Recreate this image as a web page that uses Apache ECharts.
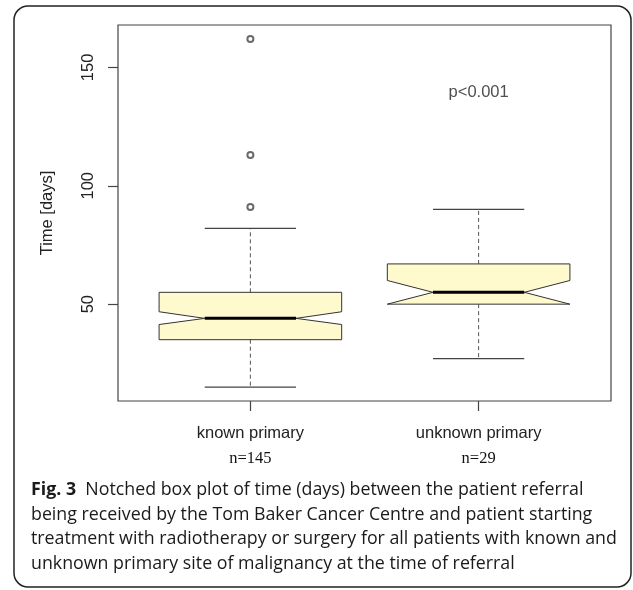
<!DOCTYPE html>
<html><head><meta charset="utf-8">
<script src="https://cdn.jsdelivr.net/npm/echarts@6/dist/echarts.min.js"></script>
<style>html,body{margin:0;padding:0;background:#fff}#c{width:633px;height:590px}</style>
</head><body><div id="c"></div>
<script>
const categories = ['known primary', 'unknown primary'];
const sampleSizes = [145, 29];
const lowerWhisker = [15, 27];
const lowerQuartile = [35, 50];
const notchLow = [41.4, 50];
const medianValue = [44, 55];
const notchHigh = [46.8, 60];
const upperQuartile = [55, 67];
const upperWhisker = [82, 90];
const outlierValues = [[162, 113, 91], []];
const yTicks = [50, 100, 150];
const pValueText = 'p<0.001';
const pValuePos = [2, 139.4];
const captionLines = [
  'Notched box plot of time (days) between the patient referral',
  'being received by the Tom Baker Cancer Centre and patient starting',
  'treatment with radiotherapy or surgery for all patients with known and',
  'unknown primary site of malignancy at the time of referral'
];

const boxData = categories.map((c, i) => [i + 1, lowerWhisker[i], lowerQuartile[i], notchLow[i], medianValue[i], notchHigh[i], upperQuartile[i], upperWhisker[i]]);
const outlierData = [];
outlierValues.forEach((arr, i) => arr.forEach(v => outlierData.push([i + 1, v])));

function renderBox(params, api) {
  const x = api.value(0);
  const lw = api.value(1), q1 = api.value(2), nl = api.value(3), md = api.value(4), nh = api.value(5), q3 = api.value(6), uw = api.value(7);
  const hw = api.size([0.4, 0])[0];
  const y = v => api.coord([x, v])[1];
  const cx = api.coord([x, md])[0];
  const pts = [[cx - hw, y(q1)], [cx - hw, y(nl)], [cx - hw / 2, y(md)], [cx - hw, y(nh)], [cx - hw, y(q3)],
    [cx + hw, y(q3)], [cx + hw, y(nh)], [cx + hw / 2, y(md)], [cx + hw, y(nl)], [cx + hw, y(q1)]];
  const dash = { stroke: '#555', lineWidth: 1, lineDash: [4, 3] };
  const solid = { stroke: '#444', lineWidth: 1.2 };
  return {
    type: 'group',
    children: [
      { type: 'line', shape: { x1: cx, y1: y(q3), x2: cx, y2: y(uw) }, style: dash },
      { type: 'line', shape: { x1: cx, y1: y(q1), x2: cx, y2: y(lw) }, style: dash },
      { type: 'line', shape: { x1: cx - hw / 2, y1: y(uw), x2: cx + hw / 2, y2: y(uw) }, style: solid },
      { type: 'line', shape: { x1: cx - hw / 2, y1: y(lw), x2: cx + hw / 2, y2: y(lw) }, style: solid },
      { type: 'polygon', shape: { points: pts }, style: { fill: '#FFF9CE', stroke: '#333', lineWidth: 1 } },
      { type: 'line', shape: { x1: cx - hw / 2, y1: y(md), x2: cx + hw / 2, y2: y(md) }, style: { stroke: '#000', lineWidth: 3 } }
    ]
  };
}

const chart = echarts.init(document.getElementById('c'));
chart.setOption({
  backgroundColor: '#fff',
  animation: false,
  title: {
    left: 26, top: 473,
    text: '{b|Fig. 3}  ' + captionLines.join('\n'),
    textStyle: {
      fontFamily: 'Open Sans', fontSize: 17.8, fontWeight: 'normal', color: '#1a1a1a', lineHeight: 24.5,
      rich: { b: { fontFamily: 'Open Sans', fontSize: 17.8, fontWeight: 'bold', color: '#1a1a1a', lineHeight: 24.5 } }
    }
  },
  graphic: [{
    type: 'rect', shape: { x: 14, y: 6, width: 617, height: 581, r: 14 },
    style: { fill: 'none', stroke: '#222', lineWidth: 1.5 }, silent: true
  }],
  grid: { left: 118, right: 22, top: 25, bottom: 189, show: true, borderColor: '#444', borderWidth: 1.2, backgroundColor: 'transparent' },
  xAxis: {
    type: 'value', min: 0.42, max: 2.58,
    axisLine: { show: false }, splitLine: { show: false },
    axisTick: { show: true, customValues: [1, 2], length: 10, lineStyle: { color: '#444', width: 1.2 } },
    axisLabel: {
      customValues: [1, 2], margin: 22,
      formatter: v => '{a|' + categories[Math.round(v) - 1] + '}\n{b|n=' + sampleSizes[Math.round(v) - 1] + '}',
      rich: {
        a: { fontFamily: 'Liberation Sans', fontSize: 16.5, color: '#222', lineHeight: 20 },
        b: { fontFamily: 'Liberation Serif', fontSize: 16.5, color: '#111', lineHeight: 32 }
      }
    }
  },
  yAxis: {
    type: 'value', min: 9.1, max: 167.9,
    name: 'Time [days]', nameLocation: 'middle', nameGap: 62, nameRotate: 90,
    nameTextStyle: { fontFamily: 'Liberation Sans', fontSize: 16.5, color: '#222' },
    axisLine: { show: false }, splitLine: { show: false },
    axisTick: { show: true, customValues: yTicks, length: 10, lineStyle: { color: '#444', width: 1.2 } },
    axisLabel: { customValues: yTicks, rotate: 90, margin: 21, fontFamily: 'Liberation Sans', fontSize: 16.5, color: '#222' }
  },
  series: [
    { type: 'custom', renderItem: renderBox, data: boxData, encode: { x: 0, y: [1, 2, 3, 4, 5, 6, 7] }, z: 2 },
    { type: 'scatter', data: outlierData, symbol: 'emptyCircle', symbolSize: 6, itemStyle: { color: '#444', borderColor: '#444', borderWidth: 0.8 }, z: 3 },
    { type: 'scatter', data: [pValuePos], symbolSize: 0,
      label: { show: true, position: 'inside', formatter: pValueText, fontFamily: 'Liberation Sans', fontSize: 16.5, color: '#222' } }
  ]
});
</script></body></html>
